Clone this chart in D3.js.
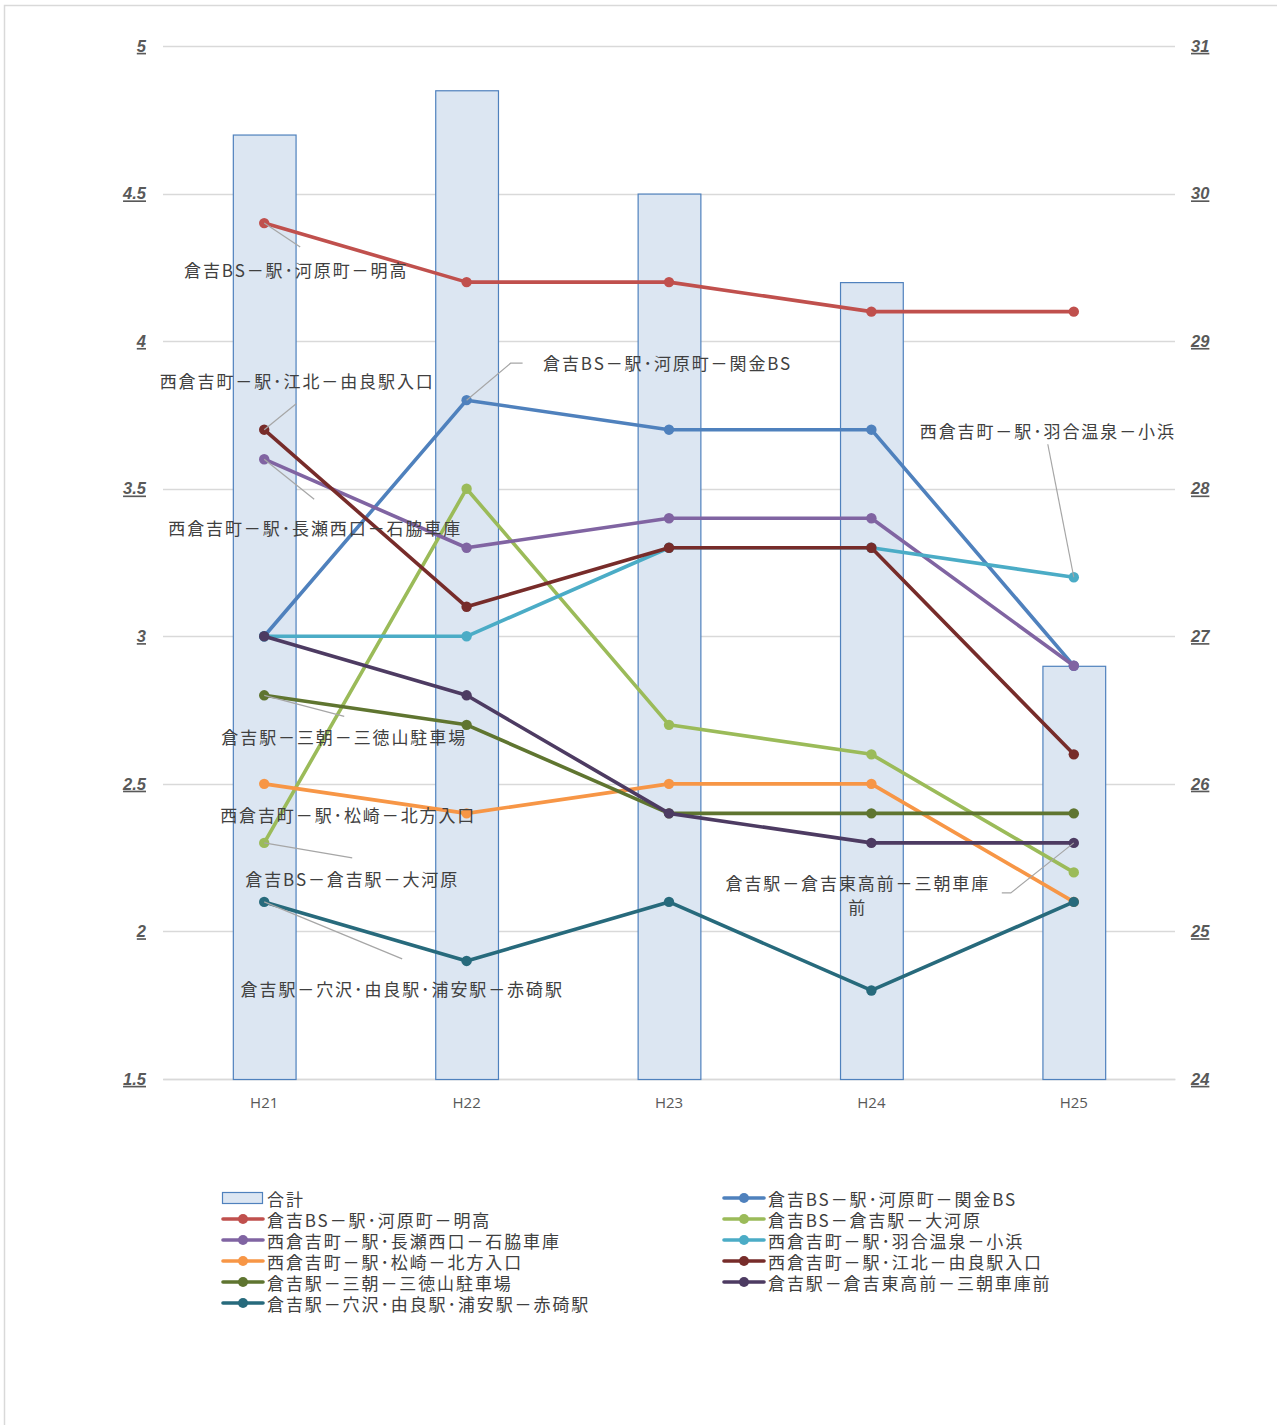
<!DOCTYPE html>
<html>
<head>
<meta charset="utf-8">
<script src="https://cdn.jsdelivr.net/npm/d3@7/dist/d3.min.js"></script>
<style>
  html, body { margin: 0; padding: 0; background: #fff; }
  svg { display: block; }
  text { font-family: "Noto Sans CJK JP", "Noto Sans", sans-serif; }
</style>
</head>
<body>
<svg id="chart" width="1277" height="1425"></svg>
<script>
// Fiscal years
const years = ["H21", "H22", "H23", "H24", "H25"];

// Total (bars, right axis)
const totalName = "合計";
const totalValues = [30.4, 30.7, 30.0, 29.4, 26.8];

// Route names
const routeNames = [
  "倉吉BS－駅･河原町－明高",
  "倉吉BS－駅･河原町－関金BS",
  "倉吉BS－倉吉駅－大河原",
  "西倉吉町－駅･長瀬西口－石脇車庫",
  "西倉吉町－駅･羽合温泉－小浜",
  "西倉吉町－駅･松崎－北方入口",
  "西倉吉町－駅･江北－由良駅入口",
  "倉吉駅－三朝－三徳山駐車場",
  "倉吉駅－倉吉東高前－三朝車庫前",
  "倉吉駅－穴沢･由良駅･浦安駅－赤碕駅"
];

// Route values per year (left axis)
const meiko     = [4.4, 4.2, 4.2, 4.1, 4.1];
const sekigane  = [3.0, 3.8, 3.7, 3.7, 2.9];
const okawara   = [2.3, 3.5, 2.7, 2.6, 2.2];
const ishiwaki  = [3.6, 3.3, 3.4, 3.4, 2.9];
const obama     = [3.0, 3.0, 3.3, 3.3, 3.2];
const kitagata  = [2.5, 2.4, 2.5, 2.5, 2.1];
const yura      = [3.7, 3.1, 3.3, 3.3, 2.6];
const mitokusan = [2.8, 2.7, 2.4, 2.4, 2.4];
const misasa    = [3.0, 2.8, 2.4, 2.3, 2.3];
const akasaki   = [2.1, 1.9, 2.1, 1.8, 2.1];

// Axis ticks
const leftTicks = [1.5, 2, 2.5, 3, 3.5, 4, 4.5, 5];
const rightTicks = [24, 25, 26, 27, 28, 29, 30, 31];

const routeValues = [meiko, sekigane, okawara, ishiwaki, obama, kitagata, yura, mitokusan, misasa, akasaki];
const colors = ["#C0504D", "#4F81BD", "#9BBB59", "#8064A2", "#4BACC6",
                "#F79646", "#772C2A", "#5F7530", "#4D3B62", "#276A7C"];

const series = routeNames.map((name, i) => ({ name, values: routeValues[i], color: colors[i] }));

const svg = d3.select("#chart");

// chart frame
svg.append("rect").attr("x", 4.5).attr("y", 5.5).attr("width", 1290).attr("height", 1440)
  .attr("fill", "#fff").attr("stroke", "#d9d9d9").attr("stroke-width", 1.5);

const plot = { left: 163, right: 1175, top: 46, bottom: 1079 };

const x = d3.scaleBand().domain(years).range([plot.left, plot.right]);
const yL = d3.scaleLinear().domain([1.5, 5]).range([plot.bottom, plot.top]);
const yR = d3.scaleLinear().domain([24, 31]).range([plot.bottom, plot.top]);
const cx = d => x(d) + x.bandwidth() / 2;

// gridlines
svg.append("g").selectAll("line").data(leftTicks).join("line")
  .attr("x1", plot.left).attr("x2", plot.right)
  .attr("y1", d => Math.round(yL(d)) + 0.5).attr("y2", d => Math.round(yL(d)) + 0.5)
  .attr("stroke", "#d9d9d9").attr("stroke-width", 1.3);

// axes
const tickStyle = g => {
  g.select(".domain").remove();
  g.selectAll(".tick line").remove();
  g.selectAll(".tick text")
    .attr("fill", "#595959").attr("font-size", 16.5).attr("font-weight", "bold")
    .attr("font-style", "italic").attr("text-decoration", "underline")
    .style("font-family", "'Liberation Sans', 'DejaVu Sans', sans-serif");
};
svg.append("g").attr("transform", `translate(${plot.left},0)`)
  .call(d3.axisLeft(yL).tickValues(leftTicks).tickFormat(d3.format("")).tickSize(0).tickPadding(17))
  .call(tickStyle);
svg.append("g").attr("transform", `translate(${plot.right},0)`)
  .call(d3.axisRight(yR).tickValues(rightTicks).tickFormat(d3.format("")).tickSize(0).tickPadding(16))
  .call(tickStyle);

const xAxis = svg.append("g").attr("transform", `translate(0,${plot.bottom})`)
  .call(d3.axisBottom(x).tickSize(0).tickPadding(18));
xAxis.select(".domain").attr("stroke", "#d9d9d9").attr("stroke-width", 1.3);
xAxis.selectAll(".tick text").attr("fill", "#595959").attr("font-size", 15)
  .style("font-family", "'Open Sans', 'Noto Sans', sans-serif");

// bars (total)
const barW = x.bandwidth() * 0.31;
svg.append("g").selectAll("rect").data(years).join("rect")
  .attr("x", d => cx(d) - barW / 2 + 0.5)
  .attr("y", (d, i) => yR(totalValues[i]) + 0.5)
  .attr("width", barW)
  .attr("height", (d, i) => plot.bottom - yR(totalValues[i]))
  .attr("fill", "#DCE6F2").attr("stroke", "#4F81BD").attr("stroke-width", 1.2);

// lines
const line = d3.line().x((d, i) => cx(years[i])).y(d => yL(d));
const lines = svg.append("g");
series.forEach(s => {
  lines.append("path").datum(s.values).attr("d", line)
    .attr("fill", "none").attr("stroke", s.color).attr("stroke-width", 3.6)
    .attr("stroke-linejoin", "round").attr("stroke-linecap", "round");
  lines.append("g").selectAll("circle").data(s.values).join("circle")
    .attr("cx", (d, i) => cx(years[i])).attr("cy", d => yL(d)).attr("r", 5.2)
    .attr("fill", s.color);
});

// data labels: series index, point index, label center offset, leader path end offsets
const labelLayout = [
  { s: 0, p: 0, dx: 32,  dy: 46,  lines: 1, leader: [[36, 24]] },
  { s: 1, p: 1, dx: 201, dy: -38, lines: 1, leader: [[44, -37], [56, -37]] },
  { s: 3, p: 0, dx: 51,  dy: 68,  lines: 1, leader: [[50, 40]] },
  { s: 4, p: 4, dx: -26, dy: -147, lines: 1, leader: [[-26, -133]] },
  { s: 5, p: 0, dx: 84,  dy: 31,  lines: 1, leader: null },
  { s: 6, p: 0, dx: 33,  dy: -49, lines: 1, leader: [[32, -26]] },
  { s: 7, p: 0, dx: 80,  dy: 41,  lines: 1, leader: [[80, 21]] },
  { s: 8, p: 4, dx: -216, dy: 39, lines: 2, leader: [[-63, 50], [-72, 50]] },
  { s: 2, p: 0, dx: 88,  dy: 36,  lines: 1, leader: [[88, 15]] },
  { s: 9, p: 0, dx: 138, dy: 87,  lines: 1, leader: [[138, 57]] }
];

const labelG = svg.append("g");
labelLayout.forEach(L => {
  const s = series[L.s];
  const px = cx(years[L.p]), py = yL(s.values[L.p]);
  if (L.leader) {
    const pts = [[px, py]].concat(L.leader.map(([a, b]) => [px + a, py + b]));
    labelG.append("path").attr("d", d3.line()(pts))
      .attr("fill", "none").attr("stroke", "#a6a6a6").attr("stroke-width", 1.2);
  }
  const t = labelG.append("text").attr("text-anchor", "middle")
    .attr("font-size", 17).attr("fill", "#404040").attr("letter-spacing", 1.9)
    .attr("dominant-baseline", "central");
  if (L.lines === 2) {
    const name = s.name;
    t.append("tspan").attr("x", px + L.dx).attr("y", py + L.dy).text(name.slice(0, name.length - 1));
    t.append("tspan").attr("x", px + L.dx).attr("y", py + L.dy + 24).text(name.slice(-1));
  } else {
    t.attr("x", px + L.dx).attr("y", py + L.dy).text(s.name);
  }
});

// legend
const legendItems = [
  { name: totalName, type: "bar" },
  { s: 1 }, { s: 0 }, { s: 2 }, { s: 3 }, { s: 4 }, { s: 5 }, { s: 6 }, { s: 7 }, { s: 8 }, { s: 9 }
];
const legendG = svg.append("g");
legendItems.forEach((it, k) => {
  const col = k % 2, row = Math.floor(k / 2);
  const lx = col === 0 ? 222 : 723;
  const ly = 1198 + row * 21;
  const g = legendG.append("g").attr("transform", `translate(${lx},${ly})`);
  let label;
  if (it.type === "bar") {
    g.append("rect").attr("x", 0.5).attr("y", -5.5).attr("width", 40).attr("height", 11)
      .attr("fill", "#DCE6F2").attr("stroke", "#4F81BD").attr("stroke-width", 1.2);
    label = it.name;
  } else {
    const s = series[it.s];
    g.append("line").attr("x1", 1).attr("x2", 41).attr("y1", 0).attr("y2", 0)
      .attr("stroke", s.color).attr("stroke-width", 3.6).attr("stroke-linecap", "round");
    g.append("circle").attr("cx", 21).attr("cy", 0).attr("r", 5).attr("fill", s.color);
    label = s.name;
  }
  g.append("text").attr("x", 45).attr("y", 0).attr("dominant-baseline", "central")
    .attr("font-size", 17).attr("fill", "#404040").attr("letter-spacing", 1.9).text(label);
});
</script>
</body>
</html>
